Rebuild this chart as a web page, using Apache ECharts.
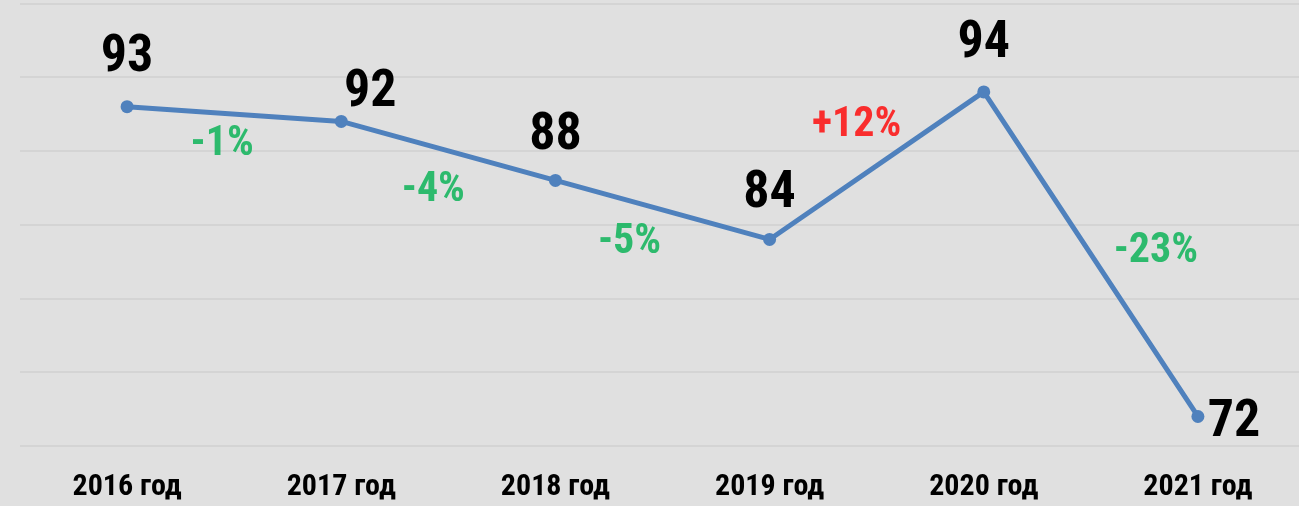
<!DOCTYPE html>
<html>
<head>
<meta charset="utf-8">
<script src="https://cdn.jsdelivr.net/npm/echarts@6/dist/echarts.min.js"></script>
<style>
html,body{margin:0;padding:0;background:#e0e0e0;overflow:hidden;}
#chart{width:1306px;height:506px;}
</style>
</head>
<body>
<div id="chart"></div>
<script>
// ---- data ----
const categories = ['2016 год', '2017 год', '2018 год', '2019 год', '2020 год', '2021 год'];
const values = [93, 92, 88, 84, 94, 72];
const changeLabels = ['-1%', '-4%', '-5%', '+12%', '-23%'];
const yTicks = [70, 75, 80, 85, 90, 95, 100];

// ---- styling (not data) ----
const FONT = '"Liberation Sans Narrow", "Arial Narrow", "Roboto Condensed", "Liberation Sans", sans-serif';
const GREEN = '#00b050';
const RED = '#ff0000';
const valueLabelOffsets = [[0, -49], [29, -28], [0, -44], [0, -45], [0, -48], [36, 7]];
const changeLabelOffsets = [[-12, 30], [-15, 40], [-33, 33], [-20, -40], [65, -3]];

const lineData = values.map((v, i) => ({
  value: v,
  label: { offset: valueLabelOffsets[i] }
}));

const changeData = changeLabels.map((txt, i) => ({
  value: [i + 0.5, (values[i] + values[i + 1]) / 2],
  name: txt,
  label: {
    offset: changeLabelOffsets[i],
    color: txt.charAt(0) === '+' ? RED : GREEN
  }
}));

const chart = echarts.init(document.getElementById('chart'));
chart.setOption({
  backgroundColor: '#e0e0e0',
  animation: false,
  grid: { left: 20, width: 1285, top: 3.4, height: 442.6, containLabel: false },
  xAxis: [{
    type: 'category',
    data: categories,
    boundaryGap: true,
    axisLine: { show: false },
    axisTick: { show: false },
    axisLabel: {
      fontFamily: FONT, fontWeight: 'bold', fontSize: 30, color: '#000',
      margin: 26, interval: 0
    },
    splitLine: { show: false }
  }, {
    type: 'value',
    min: -0.5, max: 5.5,
    show: false
  }],
  yAxis: {
    type: 'value',
    min: yTicks[0], max: yTicks[yTicks.length - 1], interval: 5,
    axisLabel: { show: false },
    axisLine: { show: false },
    axisTick: { show: false },
    splitLine: { lineStyle: { color: '#d0d0d0', width: 1.5 } }
  },
  series: [{
    type: 'line',
    data: lineData,
    xAxisIndex: 0,
    symbol: 'circle',
    symbolSize: 13,
    lineStyle: { color: '#4f81bd', width: 5 },
    itemStyle: { color: '#4f81bd' },
    label: {
      show: true,
      position: 'inside',
      fontFamily: FONT, fontWeight: 'bold', fontSize: 52, color: '#000'
    },
    z: 3
  }, {
    type: 'scatter',
    xAxisIndex: 1,
    data: changeData,
    symbolSize: 0,
    label: {
      show: true,
      position: 'inside',
      formatter: p => p.name,
      fontFamily: FONT, fontWeight: 'bold', fontSize: 42
    },
    z: 4
  }]
});
</script>
</body>
</html>
